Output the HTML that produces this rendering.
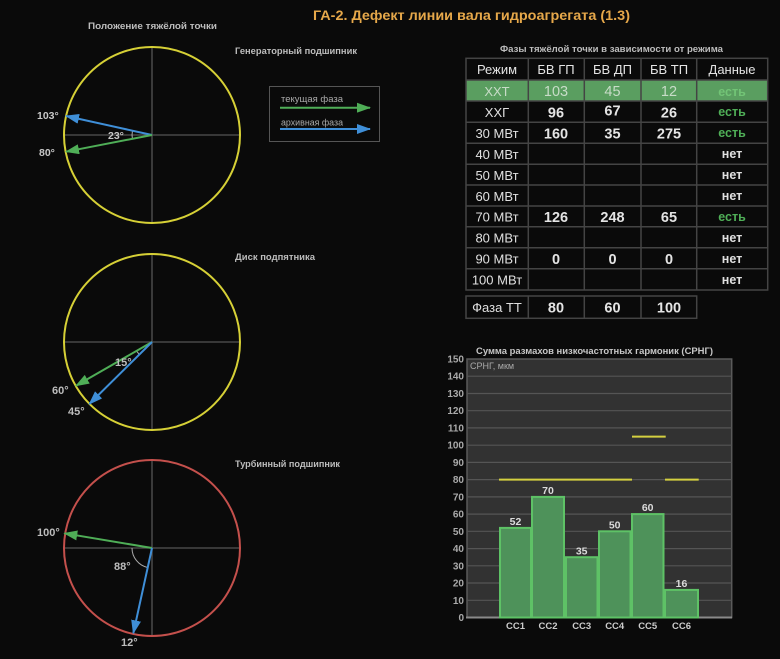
<!DOCTYPE html>
<html><head><meta charset="utf-8"><style>
html,body{margin:0;padding:0;background:#0a0a0a;}
svg{display:block;}
text{font-family:"Liberation Sans","DejaVu Sans",sans-serif;}
</style></head><body>
<svg width="780" height="659" viewBox="0 0 780 659" xmlns="http://www.w3.org/2000/svg">
<defs>
<marker id="ag" markerUnits="userSpaceOnUse" markerWidth="14" markerHeight="10" refX="13" refY="5" orient="auto"><path d="M0,0 L14,5 L0,10 z" fill="#4fae57"/></marker>
<marker id="ab" markerUnits="userSpaceOnUse" markerWidth="14" markerHeight="10" refX="13" refY="5" orient="auto"><path d="M0,0 L14,5 L0,10 z" fill="#3f8fd8"/></marker>
</defs>
<rect width="780" height="659" fill="#0a0a0a"/>

<!-- Title -->
<text x="313" y="20" font-size="14" font-weight="bold" fill="#e6a84a" textLength="317" lengthAdjust="spacingAndGlyphs">ГА-2. Дефект линии вала гидроагрегата (1.3)</text>

<!-- Left headers -->
<g font-size="9" font-weight="bold" fill="#bdbdbd">
<text x="88" y="29" textLength="129" lengthAdjust="spacingAndGlyphs">Положение тяжёлой точки</text>
<text x="235" y="54" textLength="122" lengthAdjust="spacingAndGlyphs">Генераторный подшипник</text>
<text x="235" y="260" textLength="80" lengthAdjust="spacingAndGlyphs">Диск подпятника</text>
<text x="235" y="467" textLength="105" lengthAdjust="spacingAndGlyphs">Турбинный подшипник</text>
</g>

<!-- Circle 1 -->
<g>
<line x1="64" y1="135" x2="240" y2="135" stroke="#555" stroke-width="1.3"/>
<line x1="152" y1="47" x2="152" y2="223" stroke="#555" stroke-width="1.3"/>
<circle cx="152" cy="135" r="88" fill="none" stroke="#d6d036" stroke-width="2"/>
<path d="M132.5,130.7 A20,20 0 0 0 132.4,138.8" fill="none" stroke="#aaa" stroke-width="1"/>
<line x1="152" y1="135" x2="66" y2="116" stroke="#3f8fd8" stroke-width="2" marker-end="url(#ab)"/>
<line x1="152" y1="135" x2="66" y2="151.7" stroke="#4fae57" stroke-width="2" marker-end="url(#ag)"/>
<g font-size="10.5" font-weight="bold" fill="#c8c8c8">
<text x="37" y="119">103°</text>
<text x="39" y="156">80°</text>
<text x="108" y="139">23°</text>
</g>
</g>

<!-- Legend -->
<rect x="269.5" y="86.5" width="110" height="55" fill="none" stroke="#555" stroke-width="1"/>
<text x="281" y="102" font-size="9" fill="#aaa" textLength="62" lengthAdjust="spacingAndGlyphs">текущая фаза</text>
<line x1="280" y1="107.7" x2="370" y2="107.7" stroke="#4fae57" stroke-width="2" marker-end="url(#ag)"/>
<text x="281" y="125.5" font-size="9" fill="#aaa" textLength="62" lengthAdjust="spacingAndGlyphs">архивная фаза</text>
<line x1="280" y1="129" x2="370" y2="129" stroke="#3f8fd8" stroke-width="2" marker-end="url(#ab)"/>

<!-- Circle 2 -->
<g>
<line x1="64" y1="342" x2="240" y2="342" stroke="#555" stroke-width="1.3"/>
<line x1="152" y1="254" x2="152" y2="430" stroke="#555" stroke-width="1.3"/>
<circle cx="152" cy="342" r="88" fill="none" stroke="#d6d036" stroke-width="2"/>
<path d="M136.4,351 A18,18 0 0 1 139.3,354.7" fill="none" stroke="#aaa" stroke-width="1"/>
<line x1="152" y1="342" x2="76" y2="385.7" stroke="#4fae57" stroke-width="2" marker-end="url(#ag)"/>
<line x1="152" y1="342" x2="89.3" y2="404" stroke="#3f8fd8" stroke-width="2" marker-end="url(#ab)"/>
<g font-size="11" font-weight="bold" fill="#bdbdbd" style="font-family:'Liberation Serif',serif">
<text x="52" y="394">60°</text>
<text x="68" y="415">45°</text>
<text x="115" y="366">15°</text>
</g>
</g>

<!-- Circle 3 -->
<g>
<line x1="64" y1="548" x2="240" y2="548" stroke="#555" stroke-width="1.3"/>
<line x1="152" y1="460" x2="152" y2="636" stroke="#555" stroke-width="1.3"/>
<circle cx="152" cy="548" r="88" fill="none" stroke="#c4504c" stroke-width="2"/>
<path d="M132,548 A20,20 0 0 0 147.6,567.5" fill="none" stroke="#aaa" stroke-width="1"/>
<line x1="152" y1="548" x2="64.3" y2="533.3" stroke="#4fae57" stroke-width="2" marker-end="url(#ag)"/>
<line x1="152" y1="548" x2="133.3" y2="633.3" stroke="#3f8fd8" stroke-width="2" marker-end="url(#ab)"/>
<g font-size="11" font-weight="bold" fill="#bdbdbd" style="font-family:'Liberation Serif',serif">
<text x="37" y="536">100°</text>
<text x="114" y="570">88°</text>
<text x="121" y="646">12°</text>
</g>
</g>

<!-- Table -->
<text x="500" y="52" font-size="9" font-weight="bold" fill="#bdbdbd" textLength="223" lengthAdjust="spacingAndGlyphs">Фазы тяжёлой точки в зависимости от режима</text>
<rect x="466" y="80" width="302" height="21" fill="#5a9e60"/>
<g stroke="#444" stroke-width="1.5" fill="none">
<rect x="466" y="58.3" width="301.7" height="231.7"/>
<line x1="466" y1="80" x2="768" y2="80"/>
<line x1="466" y1="101" x2="768" y2="101"/>
<line x1="466" y1="122.3" x2="768" y2="122.3"/>
<line x1="466" y1="143.3" x2="768" y2="143.3"/>
<line x1="466" y1="164.3" x2="768" y2="164.3"/>
<line x1="466" y1="185" x2="768" y2="185"/>
<line x1="466" y1="206" x2="768" y2="206"/>
<line x1="466" y1="226.7" x2="768" y2="226.7"/>
<line x1="466" y1="247.7" x2="768" y2="247.7"/>
<line x1="466" y1="268.7" x2="768" y2="268.7"/>
<line x1="528.3" y1="58.3" x2="528.3" y2="290"/>
<line x1="584.3" y1="58.3" x2="584.3" y2="290"/>
<line x1="641" y1="58.3" x2="641" y2="290"/>
<line x1="696.7" y1="58.3" x2="696.7" y2="290"/>
<rect x="466" y="296" width="230.7" height="22.3"/>
<line x1="528.3" y1="296" x2="528.3" y2="318.3"/>
<line x1="584.3" y1="296" x2="584.3" y2="318.3"/>
<line x1="641" y1="296" x2="641" y2="318.3"/>
</g>
<g font-size="13" fill="#e4e4e4" text-anchor="middle">
<text x="497" y="74">Режим</text>
<text x="556" y="74">БВ ГП</text>
<text x="612.5" y="74">БВ ДП</text>
<text x="669" y="74">БВ ТП</text>
<text x="732" y="74">Данные</text>
</g>
<!-- XXT row -->
<g text-anchor="middle" fill="#c8dcc8">
<text x="497" y="96" font-size="13">ХХТ</text>
<text x="556" y="96" font-size="14.5">103</text>
<text x="612.5" y="96" font-size="14.5">45</text>
<text x="669" y="96" font-size="14.5">12</text>
<text x="732" y="96" font-size="12.5" font-weight="bold" fill="#72c476">есть</text>
</g>
<g text-anchor="middle" font-size="13" fill="#e0e0e0">
<text x="497" y="117">ХХГ</text>
<text x="497" y="138">30 МВт</text>
<text x="497" y="159">40 МВт</text>
<text x="497" y="180">50 МВт</text>
<text x="497" y="201">60 МВт</text>
<text x="497" y="221.5">70 МВт</text>
<text x="497" y="242.5">80 МВт</text>
<text x="497" y="263.5">90 МВт</text>
<text x="497" y="284.5">100 МВт</text>
<text x="497" y="312">Фаза ТТ</text>
</g>
<g text-anchor="middle" font-size="14.5" font-weight="bold" fill="#e4e4e4">
<text x="556" y="117.5">96</text><text x="612.5" y="115.5">67</text><text x="669" y="117.5">26</text>
<text x="556" y="138.5">160</text><text x="612.5" y="138.5">35</text><text x="669" y="138.5">275</text>
<text x="556" y="222">126</text><text x="612.5" y="222">248</text><text x="669" y="222">65</text>
<text x="556" y="264">0</text><text x="612.5" y="264">0</text><text x="669" y="264">0</text>
<text x="556" y="312.5">80</text><text x="612.5" y="312.5">60</text><text x="669" y="312.5">100</text>
</g>
<g text-anchor="middle" font-size="12.5" font-weight="bold">
<text x="732" y="116" fill="#4fae57">есть</text>
<text x="732" y="137" fill="#4fae57">есть</text>
<text x="732" y="158" fill="#e0e0e0">нет</text>
<text x="732" y="179" fill="#e0e0e0">нет</text>
<text x="732" y="200" fill="#e0e0e0">нет</text>
<text x="732" y="221" fill="#4fae57">есть</text>
<text x="732" y="242" fill="#e0e0e0">нет</text>
<text x="732" y="263" fill="#e0e0e0">нет</text>
<text x="732" y="284" fill="#e0e0e0">нет</text>
</g>

<!-- Chart -->
<text x="476" y="354" font-size="9.5" font-weight="bold" fill="#c8c8c8" textLength="237" lengthAdjust="spacingAndGlyphs">Сумма размахов низкочастотных гармоник (СРНГ)</text>
<rect x="467" y="359" width="264.7" height="258.5" fill="#323232" stroke="#5a5a5a" stroke-width="1.5"/>
<g stroke="#555" stroke-width="1.2">
<line x1="467" y1="600.3" x2="731.7" y2="600.3"/>
<line x1="467" y1="583.0" x2="731.7" y2="583.0"/>
<line x1="467" y1="565.8" x2="731.7" y2="565.8"/>
<line x1="467" y1="548.6" x2="731.7" y2="548.6"/>
<line x1="467" y1="531.3" x2="731.7" y2="531.3"/>
<line x1="467" y1="514.1" x2="731.7" y2="514.1"/>
<line x1="467" y1="496.9" x2="731.7" y2="496.9"/>
<line x1="467" y1="479.6" x2="731.7" y2="479.6"/>
<line x1="467" y1="462.4" x2="731.7" y2="462.4"/>
<line x1="467" y1="445.2" x2="731.7" y2="445.2"/>
<line x1="467" y1="427.9" x2="731.7" y2="427.9"/>
<line x1="467" y1="410.7" x2="731.7" y2="410.7"/>
<line x1="467" y1="393.5" x2="731.7" y2="393.5"/>
<line x1="467" y1="376.2" x2="731.7" y2="376.2"/>
</g>
<line x1="466" y1="617.5" x2="732" y2="617.5" stroke="#8a8a8a" stroke-width="2"/>
<text x="470" y="369" font-size="9" fill="#aaa">СРНГ, мкм</text>
<g font-size="10" font-weight="bold" fill="#aaaaaa" text-anchor="end">
<text x="464" y="621">0</text>
<text x="464" y="603.8">10</text>
<text x="464" y="586.5">20</text>
<text x="464" y="569.3">30</text>
<text x="464" y="552.1">40</text>
<text x="464" y="534.8">50</text>
<text x="464" y="517.6">60</text>
<text x="464" y="500.4">70</text>
<text x="464" y="483.1">80</text>
<text x="464" y="465.9">90</text>
<text x="464" y="448.7">100</text>
<text x="464" y="431.4">110</text>
<text x="464" y="414.2">120</text>
<text x="464" y="397">130</text>
<text x="464" y="379.7">140</text>
<text x="464" y="362.5">150</text>
</g>
<g fill="#4e925a" stroke="#5ec266" stroke-width="2">
<rect x="500" y="527.9" width="31" height="89.6"/>
<rect x="532" y="496.9" width="32" height="120.6"/>
<rect x="566" y="557.2" width="31.5" height="60.3"/>
<rect x="599" y="531.3" width="31.5" height="86.2"/>
<rect x="632" y="514.1" width="31.5" height="103.4"/>
<rect x="665" y="589.9" width="33" height="27.6"/>
</g>
<g font-size="10.5" font-weight="bold" fill="#dcdcdc" text-anchor="middle">
<text x="515.5" y="525">52</text>
<text x="548" y="494">70</text>
<text x="581.7" y="554.5">35</text>
<text x="614.7" y="528.5">50</text>
<text x="647.7" y="511">60</text>
<text x="681.5" y="587">16</text>
</g>
<g stroke="#d4d040" stroke-width="2">
<line x1="499" y1="479.6" x2="632" y2="479.6"/>
<line x1="632" y1="436.6" x2="665.7" y2="436.6"/>
<line x1="665" y1="479.6" x2="698.7" y2="479.6"/>
</g>
<g font-size="9.5" font-weight="bold" fill="#cccccc" text-anchor="middle">
<text x="515.5" y="629">CC1</text>
<text x="548" y="629">CC2</text>
<text x="581.7" y="629">CC3</text>
<text x="614.7" y="629">CC4</text>
<text x="647.7" y="629">CC5</text>
<text x="681.5" y="629">CC6</text>
</g>
</svg>
</body></html>
